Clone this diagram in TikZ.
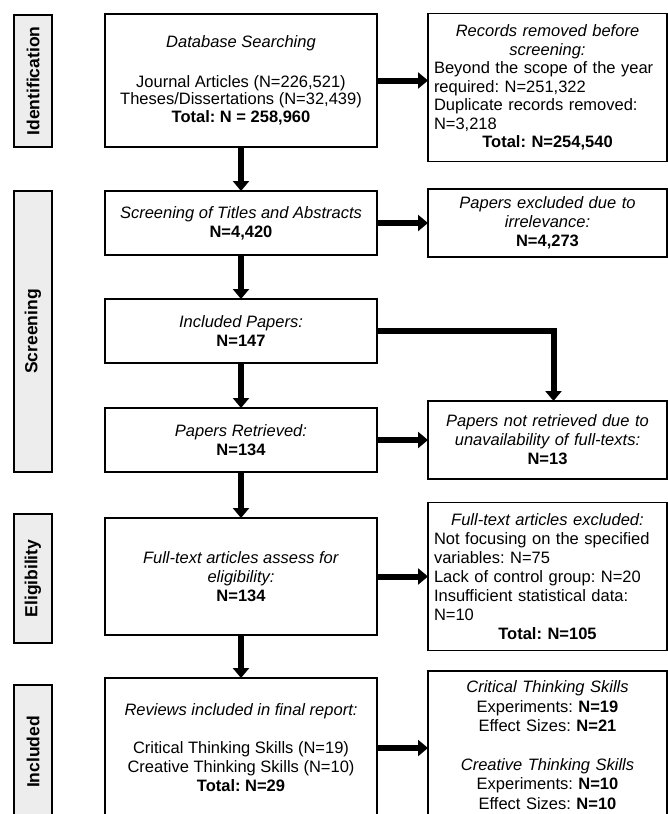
\documentclass[tikz,border=0pt]{standalone}
\usepackage{fontspec}
\setmainfont{Liberation Sans}
\usetikzlibrary{arrows.meta,positioning}
\newcommand{\ctrline}[1]{\makebox[\hsize]{#1}}
\frenchspacing

\begin{document}
\begin{tikzpicture}[
  x=1pt, y=-1pt,
  node distance=44pt and 51pt,
  every node/.style={font=\fontsize{16.5}{19}\selectfont},
  box/.style={draw, line width=1.6pt, outer sep=0pt, align=center, inner sep=6pt, minimum width=272pt},
  rbox/.style={box, text width=227pt, minimum width=239pt},
  phase/.style={draw, line width=1.6pt, fill=black!7, rotate=90, minimum height=38pt, inner sep=2pt, font=\fontsize{17.5}{19}\selectfont\bfseries},
  arrow/.style={-{Triangle[length=10pt,width=16pt]}, line width=6pt}
]
\useasboundingbox (0,0) rectangle (668,814);
\clip (0,0) rectangle (668,814);

% phase labels
\node[phase, minimum width=132pt] (ident) at (33,81) {Identification};
\node[phase, minimum width=281pt] (screen) at (33,331.5) {Screening};
\node[phase, minimum width=129pt] (elig) at (33,578.5) {Eligibility};
\node[phase, minimum width=134pt] (incl) at (33,752) {Included};

% main column
\node[box, minimum height=133pt, font=\fontsize{16.5}{17.5}\selectfont] (search) at (241,80.5)
  {\textit{Database Searching}\\[22pt]
   Journal Articles (N=226,521)\\
   Theses/Dissertations (N=32,439)\\
   \textbf{Total: N = 258,960}};
\node[box, minimum height=64pt, below=of search] (titles)
  {\textit{Screening of Titles and Abstracts}\\ \textbf{N=4,420}};
\node[box, minimum height=64pt, below=of titles] (included)
  {\textit{Included Papers:}\\ \textbf{N=147}};
\node[box, minimum height=64pt, below=45pt of included] (retrieved)
  {\textit{Papers Retrieved:}\\ \textbf{N=134}};
\node[box, minimum height=117pt, below=46pt of retrieved] (fulltext)
  {\textit{Full-text articles assess for}\\ \textit{eligibility:}\\ \textbf{N=134}};
\node[box, minimum height=140pt, below=43pt of fulltext] (final)
  {\textit{Reviews included in final report:}\\[19pt]
   Critical Thinking Skills (N=19)\\
   Creative Thinking Skills (N=10)\\
   \textbf{Total: N=29}};

% right column
\node[rbox, align=left, minimum height=148pt, right=of search, yshift=-7pt, font=\fontsize{16.5}{18.5}\selectfont] (removed)
  {\ctrline{\itshape Records removed before}\\
   \ctrline{\itshape screening:}\\
   Beyond the scope of the year\\
   required: N=251,322\\
   Duplicate records removed:\\
   N=3,218\\
   \ctrline{\bfseries Total: N=254,540}};
\node[rbox, minimum height=68pt, right=of titles] (irrelevant)
  {\textit{Papers excluded due to}\\ \textit{irrelevance:}\\ \textbf{N=4,273}};
\node[rbox, minimum height=78pt, right=of retrieved] (notretr)
  {\textit{Papers not retrieved due to}\\ \textit{unavailability of full-texts:}\\ \textbf{N=13}};
\node[rbox, align=left, minimum height=148pt, right=of fulltext] (excluded)
  {\ctrline{\itshape Full-text articles excluded:}\\
   Not focusing on the specified\\
   variables: N=75\\
   Lack of control group: N=20\\
   Insufficient statistical data:\\
   N=10\\
   \ctrline{\bfseries Total: N=105}};
\node[rbox, minimum height=148pt, right=of final, yshift=3pt, font=\fontsize{16.5}{19.5}\selectfont] (skills)
  {\textit{Critical Thinking Skills}\\
   Experiments: \textbf{N=19}\\
   Effect Sizes: \textbf{N=21}\\[19pt]
   \textit{Creative Thinking Skills}\\
   Experiments: \textbf{N=10}\\
   Effect Sizes: \textbf{N=10}};

% connectors
\foreach \a/\b in {search/titles, titles/included, included/retrieved, retrieved/fulltext, fulltext/final}
  \draw[arrow] (\a) -- (\b);
\draw[arrow] (search.east) -- (search.east -| removed.west);
\draw[arrow] (titles) -- (irrelevant);
\draw[arrow] (included.east) -| ([xshift=6pt]notretr.north);
\draw[arrow] (retrieved.east) -- (retrieved.east -| notretr.west);
\draw[arrow] (fulltext) -- (excluded);
\draw[arrow] (final.east) -- (final.east -| skills.west);
\end{tikzpicture}
\end{document}
